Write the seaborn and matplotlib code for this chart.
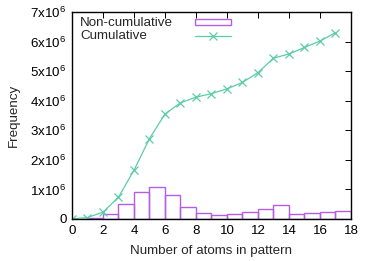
import numpy as np
import pandas as pd
import matplotlib
matplotlib.use('Agg')
import matplotlib.pyplot as plt
import seaborn as sns
from matplotlib.patches import Rectangle
from matplotlib.lines import Line2D

# number of atoms (bin start) and frequencies
atoms = [0, 1, 2, 3, 4, 5, 6, 7, 8, 9, 10, 11, 12, 13, 14, 15, 16, 17]
non_cumulative = [0.005e6, 0.045e6, 0.18e6, 0.51e6, 0.92e6, 1.09e6, 0.82e6, 0.40e6, 0.19e6,
                  0.125e6, 0.16e6, 0.23e6, 0.33e6, 0.48e6, 0.17e6, 0.20e6, 0.24e6, 0.27e6]
cumulative = [0.0, 0.05e6, 0.23e6, 0.74e6, 1.65e6, 2.72e6, 3.55e6, 3.93e6, 4.12e6,
              4.24e6, 4.40e6, 4.62e6, 4.95e6, 5.44e6, 5.58e6, 5.80e6, 6.02e6, 6.30e6]
xticks = list(range(0, 19, 2))
yticks = [0, 1e6, 2e6, 3e6, 4e6, 5e6, 6e6, 7e6]
ytick_labels = ['0'] + [r'$\mathregular{%dx10^6}$' % i for i in range(1, 8)]

bar_color = '#b45ee6'
line_color = '#5ccca8'
fs = 9.6

df = pd.DataFrame({'mid': [a + 0.5 for a in atoms], 'atoms': atoms,
                   'freq': non_cumulative, 'cum': cumulative})

sns.set_style('white')
plt.rcParams['font.family'] = ['Liberation Sans', 'DejaVu Sans']
plt.rcParams['mathtext.fontset'] = 'custom'
plt.rcParams['mathtext.rm'] = 'Liberation Sans'

fig = plt.figure(figsize=(3.74, 2.61), dpi=100)
ax = fig.add_axes([0.1925, 0.161, 0.746, 0.793])

sns.histplot(data=df, x='mid', weights='freq', bins=18, binrange=(0, 18),
             fill=False, color=bar_color, linewidth=1.0, ax=ax)
sns.lineplot(data=df, x='atoms', y='cum', color=line_color, linewidth=0.9, marker='x',
             markersize=6, markeredgewidth=0.9, markeredgecolor=line_color, ax=ax)

ax.set_xlim(0, 18)
ax.set_ylim(0, 7e6)
ax.set_xticks(xticks)
ax.set_yticks(yticks)
ax.set_yticklabels(ytick_labels)
ax.tick_params(direction='in', length=4, width=0.7, top=True, right=True,
               labelsize=fs, pad=4, colors='black')
for s in ax.spines.values():
    s.set_color('black')
    s.set_linewidth(1.0)

ax.set_xlabel('Number of atoms in pattern', fontsize=fs, labelpad=6)
ax.set_ylabel('Frequency', fontsize=fs)
ax.yaxis.set_label_coords(-0.186, 0.5)

# gnuplot style key: text left, sample on the right
ax.text(0.029, 0.947, 'Non-cumulative', transform=ax.transAxes, fontsize=fs,
        va='center', ha='left')
ax.text(0.029, 0.884, 'Cumulative', transform=ax.transAxes, fontsize=fs,
        va='center', ha='left')
ax.add_patch(Rectangle((0.441, 0.935), 0.129, 0.031, transform=ax.transAxes,
                       fill=False, edgecolor=bar_color, linewidth=1.0, clip_on=False))
ax.add_line(Line2D([0.441, 0.570], [0.882, 0.882], transform=ax.transAxes,
                   color=line_color, linewidth=0.9))
ax.add_line(Line2D([0.505], [0.882], transform=ax.transAxes, color=line_color,
                   marker='x', markersize=6, markeredgewidth=0.9, linestyle='none'))

fig.savefig('out.png', dpi=100)
